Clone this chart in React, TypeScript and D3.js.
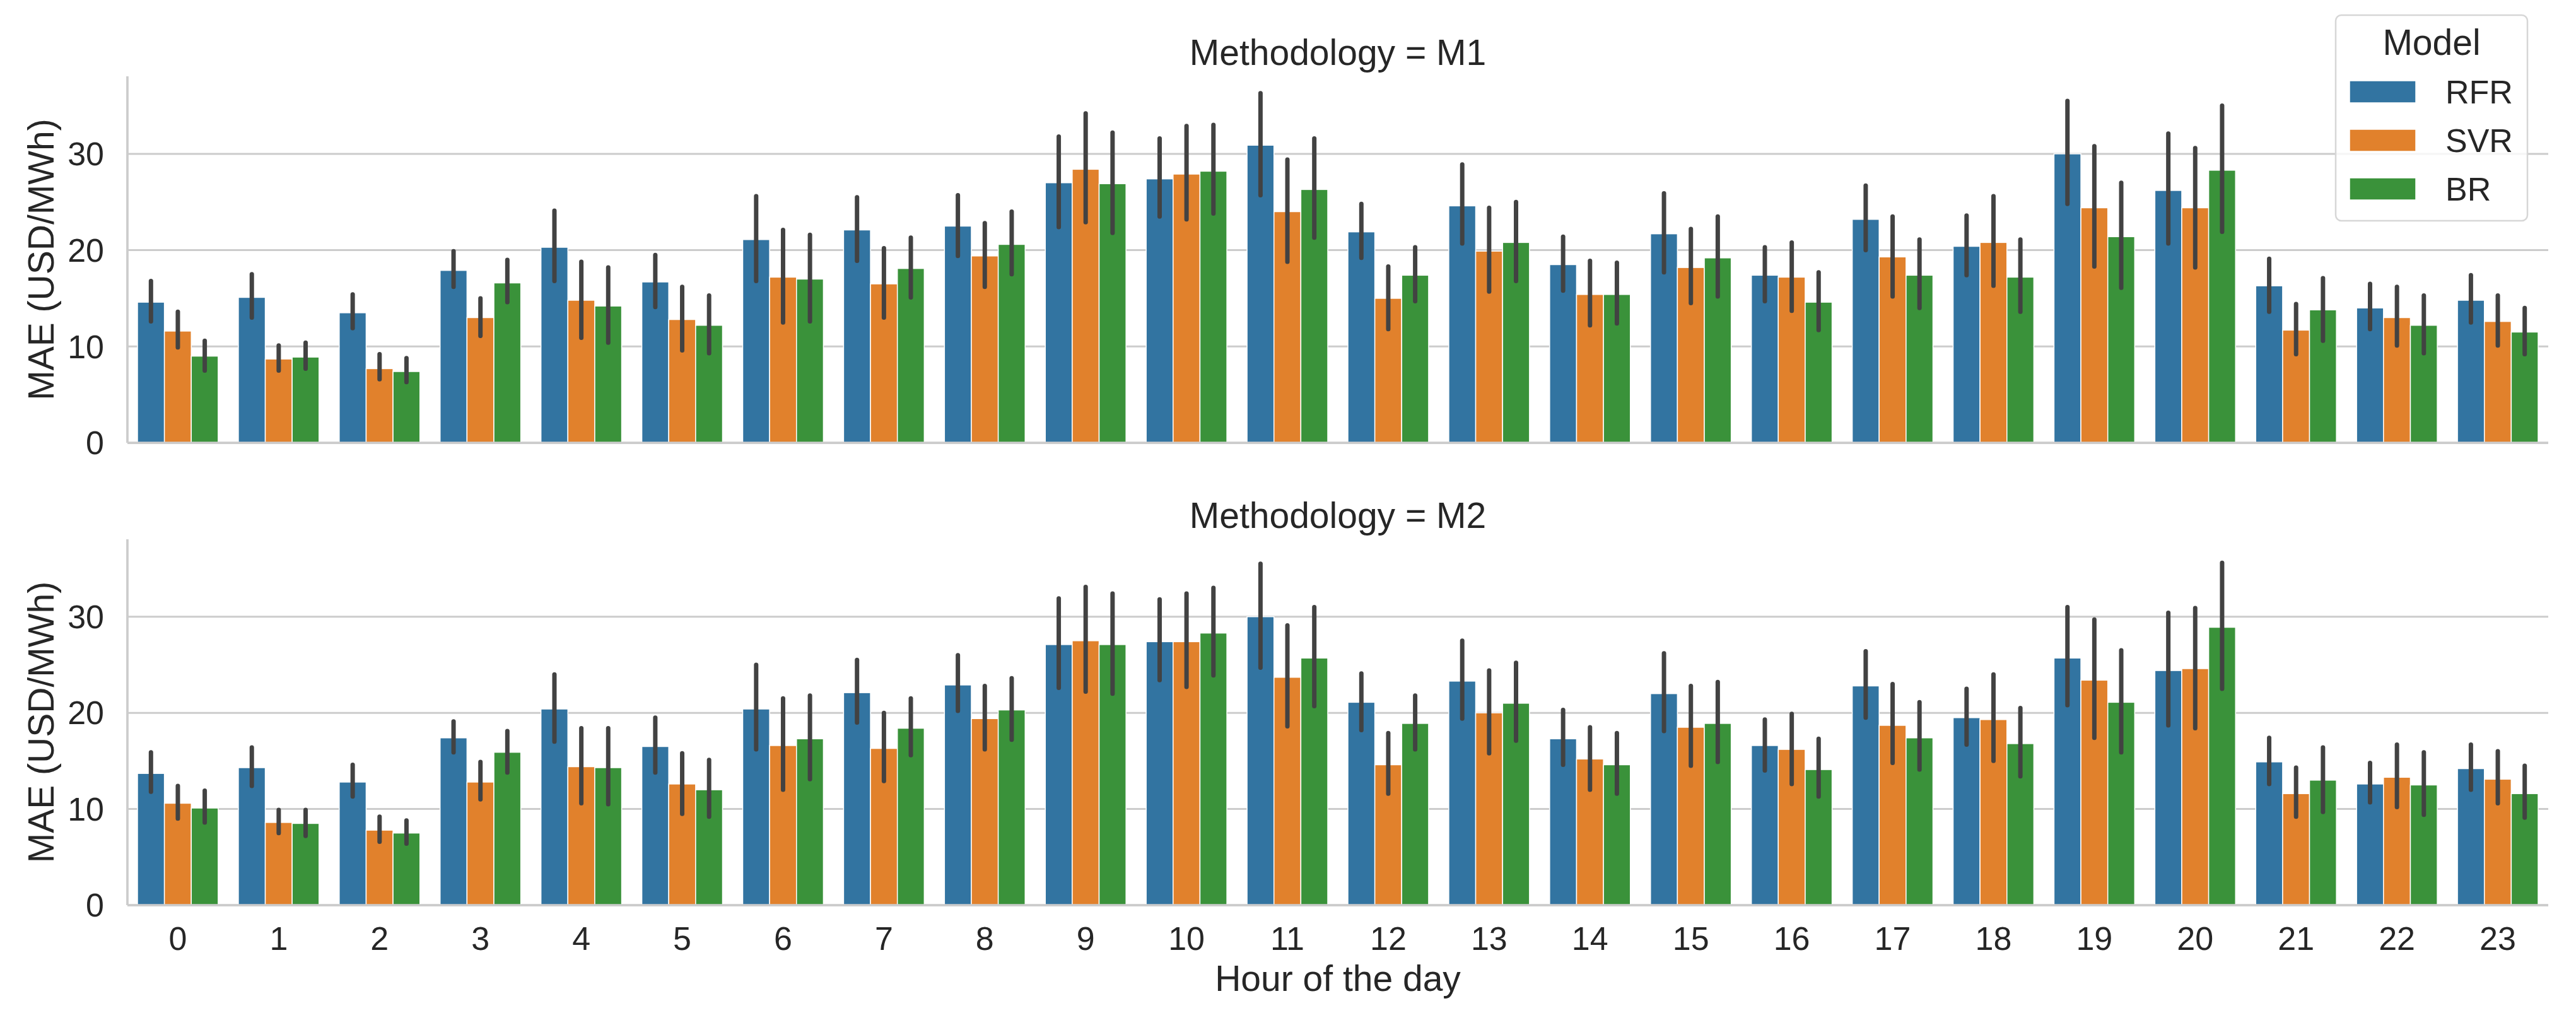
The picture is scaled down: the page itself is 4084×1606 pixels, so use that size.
import * as d3 from 'd3';

// hours on the x axis
const hours = d3.range(24).map(String);
const models = ['RFR', 'SVR', 'BR'];
const colors = ['#3274a1', '#e1812c', '#3a923a'];
const yTicks = [0, 10, 20, 30];

// Methodology = M1 (mean MAE and 95% CI)
const m1RFR = [14.6, 15.1, 13.5, 17.9, 20.3, 16.7, 21.1, 22.1, 22.5, 27.0, 27.4, 30.9, 21.9, 24.6, 18.5, 21.7, 17.4, 23.2, 20.4, 30.0, 26.2, 16.3, 14.0, 14.8];
const m1RFRlo = [12.6, 13.0, 11.9, 16.2, 16.8, 14.1, 16.8, 18.9, 19.4, 22.4, 23.5, 25.7, 19.2, 20.7, 15.8, 17.7, 14.7, 20.0, 17.4, 24.8, 20.7, 13.6, 11.8, 12.5];
const m1RFRhi = [16.8, 17.5, 15.4, 19.9, 24.1, 19.5, 25.6, 25.5, 25.7, 31.8, 31.6, 36.3, 24.8, 28.9, 21.4, 25.9, 20.3, 26.7, 23.6, 35.5, 32.1, 19.1, 16.5, 17.4];
const m1SVR = [11.6, 8.7, 7.7, 13.0, 14.8, 12.8, 17.2, 16.5, 19.4, 28.4, 27.9, 24.0, 15.0, 19.9, 15.4, 18.2, 17.2, 19.3, 20.8, 24.4, 24.4, 11.7, 13.0, 12.6];
const m1SVRlo = [9.9, 7.5, 6.6, 11.1, 10.9, 9.6, 12.5, 13.0, 16.2, 22.9, 23.2, 18.8, 11.8, 15.7, 12.2, 14.5, 13.7, 15.2, 16.3, 18.3, 18.2, 9.2, 10.1, 10.1];
const m1SVRhi = [13.6, 10.1, 9.2, 15.0, 18.8, 16.2, 22.1, 20.2, 22.8, 34.2, 32.9, 29.4, 18.3, 24.4, 18.9, 22.2, 20.8, 23.5, 25.6, 30.8, 30.6, 14.4, 16.2, 15.3];
const m1BR = [9.0, 8.9, 7.4, 16.6, 14.2, 12.2, 17.0, 18.1, 20.6, 26.9, 28.2, 26.3, 17.4, 20.8, 15.4, 19.2, 14.6, 17.4, 17.2, 21.4, 28.3, 13.8, 12.2, 11.5];
const m1BRlo = [7.5, 7.7, 6.3, 14.6, 10.4, 9.3, 12.6, 15.1, 17.5, 21.8, 23.8, 21.3, 14.7, 16.8, 12.4, 15.2, 11.7, 14.0, 13.6, 16.1, 21.9, 10.6, 9.3, 9.2];
const m1BRhi = [10.6, 10.4, 8.8, 19.0, 18.2, 15.3, 21.6, 21.3, 24.0, 32.2, 33.0, 31.6, 20.3, 25.0, 18.7, 23.5, 17.7, 21.1, 21.1, 27.0, 35.0, 17.1, 15.3, 14.0];

// Methodology = M2
const m2RFR = [13.7, 14.3, 12.8, 17.4, 20.4, 16.5, 20.4, 22.1, 22.9, 27.1, 27.4, 30.0, 21.1, 23.3, 17.3, 22.0, 16.6, 22.8, 19.5, 25.7, 24.4, 14.9, 12.6, 14.2];
const m2RFRlo = [11.8, 12.4, 11.3, 15.9, 17.0, 13.8, 16.2, 19.0, 20.2, 22.6, 23.4, 24.7, 18.2, 19.4, 14.6, 18.1, 14.0, 19.5, 16.7, 20.8, 18.7, 12.6, 10.7, 12.0];
const m2RFRhi = [15.9, 16.4, 14.6, 19.1, 24.0, 19.5, 25.0, 25.5, 26.0, 31.9, 31.8, 35.5, 24.1, 27.5, 20.3, 26.2, 19.3, 26.4, 22.5, 31.0, 30.4, 17.4, 14.8, 16.7];
const m2SVR = [10.6, 8.6, 7.8, 12.8, 14.4, 12.6, 16.6, 16.3, 19.4, 27.5, 27.4, 23.7, 14.6, 20.0, 15.2, 18.5, 16.2, 18.7, 19.3, 23.4, 24.6, 11.6, 13.3, 13.1];
const m2SVRlo = [9.0, 7.5, 6.6, 11.0, 10.6, 9.5, 12.0, 12.9, 16.2, 22.2, 22.7, 18.6, 11.6, 15.8, 12.0, 14.5, 12.6, 14.8, 15.0, 17.4, 18.4, 9.2, 10.2, 10.6];
const m2SVRhi = [12.4, 9.9, 9.2, 14.9, 18.4, 15.8, 21.5, 20.0, 22.8, 33.1, 32.4, 29.1, 17.9, 24.4, 18.5, 22.8, 19.9, 23.0, 24.0, 29.7, 30.9, 14.3, 16.7, 16.0];
const m2BR = [10.1, 8.5, 7.5, 15.9, 14.3, 12.0, 17.3, 18.4, 20.3, 27.1, 28.3, 25.7, 18.9, 21.0, 14.6, 18.9, 14.1, 17.4, 16.8, 21.1, 28.9, 13.0, 12.5, 11.6];
const m2BRlo = [8.6, 7.2, 6.4, 13.8, 10.5, 9.2, 13.1, 15.6, 17.2, 22.0, 23.9, 20.7, 16.2, 17.1, 11.6, 14.9, 11.3, 14.1, 13.4, 15.9, 22.5, 9.7, 9.4, 9.1];
const m2BRhi = [11.9, 9.9, 8.8, 18.1, 18.4, 15.1, 21.8, 21.5, 23.6, 32.4, 33.0, 31.0, 21.8, 25.2, 17.9, 23.2, 17.3, 21.1, 20.5, 26.5, 35.6, 16.4, 15.9, 14.5];

const panels = [
  {
    title: 'Methodology = M1',
    top: 121,
    bottom: 702,
    series: [
      { mean: m1RFR, lo: m1RFRlo, hi: m1RFRhi },
      { mean: m1SVR, lo: m1SVRlo, hi: m1SVRhi },
      { mean: m1BR, lo: m1BRlo, hi: m1BRhi },
    ],
    showX: false,
  },
  {
    title: 'Methodology = M2',
    top: 855,
    bottom: 1435,
    series: [
      { mean: m2RFR, lo: m2RFRlo, hi: m2RFRhi },
      { mean: m2SVR, lo: m2SVRlo, hi: m2SVRhi },
      { mean: m2BR, lo: m2BRlo, hi: m2BRhi },
    ],
    showX: true,
  },
];

const W = 4084;
const H = 1606;
const left = 202;
const right = 4040;
const font = '"Liberation Sans", Arial, sans-serif';
const textColor = '#262626';
const gridColor = '#cccccc';

const x = d3.scaleBand<string>().domain(hours).range([left, right]).padding(0);
const inner = d3
  .scaleBand<string>()
  .domain(models)
  .range([x.bandwidth() * 0.1, x.bandwidth() * 0.9]);

const Panel = ({ p }: { p: (typeof panels)[number] }) => {
  const y = d3.scaleLinear().domain([0, 38.05]).range([p.bottom, p.top]);
  const cx = (left + right) / 2;
  return (
    <g>
      {yTicks.map((t) => (
        <g key={t}>
          <line x1={left} x2={right} y1={y(t)} y2={y(t)} stroke={gridColor} strokeWidth={3} />
          <text
            x={165}
            y={y(t)}
            dy="0.35em"
            textAnchor="end"
            fontSize={52}
            fill={textColor}
            fontFamily={font}
          >
            {t}
          </text>
        </g>
      ))}
      {p.series.map((s, mi) =>
        hours.map((h, i) => (
          <rect
            key={`${mi}-${h}`}
            x={(x(h) as number) + (inner(models[mi]) as number)}
            y={y(s.mean[i])}
            width={inner.bandwidth()}
            height={y(0) - y(s.mean[i])}
            fill={colors[mi]}
            stroke="#ffffff"
            strokeWidth={1.5}
          />
        ))
      )}
      {p.series.map((s, mi) =>
        hours.map((h, i) => {
          const bx = (x(h) as number) + (inner(models[mi]) as number) + inner.bandwidth() / 2;
          return (
            <line
              key={`e${mi}-${h}`}
              x1={bx}
              x2={bx}
              y1={y(s.lo[i])}
              y2={y(s.hi[i])}
              stroke="#424242"
              strokeWidth={7}
              strokeLinecap="round"
            />
          );
        })
      )}
      <line x1={left} x2={left} y1={p.top} y2={p.bottom} stroke={gridColor} strokeWidth={3.75} />
      <line x1={left} x2={right} y1={p.bottom} y2={p.bottom} stroke={gridColor} strokeWidth={3.75} />
      <text
        x={cx}
        y={p.top - 18}
        textAnchor="middle"
        fontSize={57}
        fill={textColor}
        fontFamily={font}
      >
        {p.title}
      </text>
      <text
        transform={`translate(85,${(p.top + p.bottom) / 2}) rotate(-90)`}
        textAnchor="middle"
        fontSize={57}
        fill={textColor}
        fontFamily={font}
      >
        MAE (USD/MWh)
      </text>
      {p.showX &&
        hours.map((h) => (
          <text
            key={`xt${h}`}
            x={(x(h) as number) + x.bandwidth() / 2}
            y={p.bottom + 71}
            textAnchor="middle"
            fontSize={52}
            fill={textColor}
            fontFamily={font}
          >
            {h}
          </text>
        ))}
      {p.showX && (
        <text x={cx} y={1571} textAnchor="middle" fontSize={57} fill={textColor} fontFamily={font}>
          Hour of the day
        </text>
      )}
    </g>
  );
};

const Legend = () => {
  const rows = [128, 205, 282];
  return (
    <g>
      <rect
        x={3703}
        y={24}
        width={304}
        height={326}
        rx={9}
        fill="#ffffff"
        fillOpacity={0.8}
        stroke="#d6d6d6"
        strokeWidth={2.5}
      />
      <text x={3855} y={87} textAnchor="middle" fontSize={57} fill={textColor} fontFamily={font}>
        Model
      </text>
      {models.map((m, i) => (
        <g key={m}>
          <rect x={3725} y={rows[i]} width={105} height={35} fill={colors[i]} stroke="#ffffff" strokeWidth={1.5} />
          <text x={3877} y={rows[i] + 36} fontSize={52} fill={textColor} fontFamily={font}>
            {m}
          </text>
        </g>
      ))}
    </g>
  );
};

export default function App() {
  return (
    <svg
      width={W}
      height={H}
      viewBox={`0 0 ${W} ${H}`}
      style={{ position: 'absolute', left: 0, top: 0, background: '#ffffff' }}
    >
      <rect width={W} height={H} fill="#ffffff" />
      {panels.map((p) => (
        <Panel key={p.title} p={p} />
      ))}
      <Legend />
    </svg>
  );
}
